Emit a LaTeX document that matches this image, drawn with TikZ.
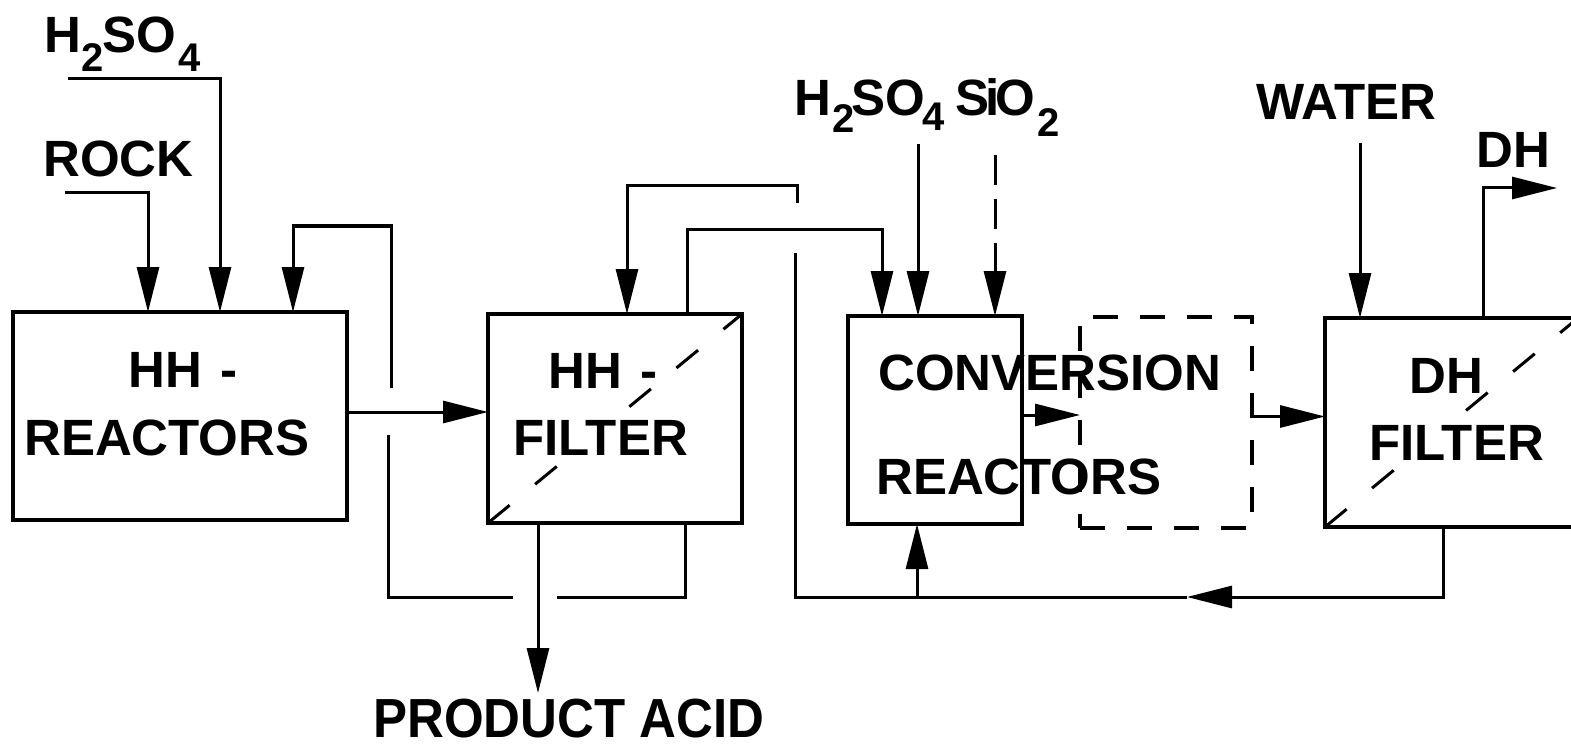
\documentclass[tikz,border=0pt]{standalone}
\usepackage{fontspec}
\setmainfont{Liberation Sans}
\usetikzlibrary{arrows.meta}
\newcommand{\chemsub}[2]{\raisebox{#1}{\fontsize{40}{40}\selectfont #2}}
\begin{document}
\begin{tikzpicture}[x=1pt,y=-1pt,
  unitbox/.style={draw, line width=3.2pt, inner sep=0pt, outer sep=0pt},
  flow/.style={line width=3pt, -{Triangle[length=45pt,width=22pt]}},
  pipe/.style={line width=3pt},
  diag/.style={line width=3pt, dash pattern=on 28pt off 33pt},
  lbl/.style={inner sep=0pt, anchor=base west, font=\fontsize{51}{60}\selectfont\bfseries}]
\useasboundingbox (0,0) rectangle (1571,746);
\clip (0,0) rectangle (1571,746);
\fill[white] (0,0) rectangle (1571,746);

% boxes
\node[unitbox, minimum width=334pt, minimum height=208pt] (rx) at (180,416) {};
\node[unitbox, minimum width=254pt, minimum height=209pt] (hf) at (615,418.5) {};
\node[unitbox, minimum width=174pt, minimum height=208pt] (cv) at (935,420) {};
\node[unitbox, dash pattern=on 25pt off 22pt, minimum width=172pt, minimum height=211pt] (db) at (1166,422.5) {};
\node[unitbox, minimum width=253pt, minimum height=209pt] (df) at (1451.5,422.5) {};

% filter diagonals
\draw[diag] (hf.south west) -- (hf.north east);
\draw[diag] (df.south west) -- (df.north east);

% labels
\node[lbl] (h2a) at (44,53) {H\chemsub{-19pt}{2}\kern-1pt SO\kern3pt\chemsub{-19pt}{4}};
\node[lbl] (rock) at (43,177) {ROCK};
\node[lbl] (rxa) at (128,387) {HH\kern4pt\ -};
\node[lbl] (rxb) at (24,455) {REACTORS};
\node[lbl] (hfa) at (548,388) {HH\kern4pt\ -};
\node[lbl, fill=white] (hfb) at (513,455) {FILTER};
\node[lbl] (cva) at (878,390) {CONVERSION};
\node[lbl] (cvb) at (876,494) {REACTORS};
\node[lbl] (h2b) at (794,116) {H\kern1pt\chemsub{-17pt}{2}\kern-3pt SO\kern-2pt\chemsub{-15pt}{4}};
\node[lbl] (sio) at (955,116) {S\kern-4pt i\kern-4pt O\kern2pt\chemsub{-21pt}{2}};
\node[lbl] (water) at (1256,120) {WATER};
\node[lbl] (dh) at (1476,168) {DH};
\node[lbl] (dfa) at (1409,393) {DH};
\node[lbl, fill=white] (dfb) at (1369,460) {FILTER};
\node[lbl] (pa) at (373,737) {\scalebox{1}[1.08]{PRODUCT ACID}};

% free ends and bends
\coordinate (rockS) at (65,193);
\coordinate (h2aS) at (68,79);
\coordinate (k1) at (557,597);
\coordinate (k2) at (513,597);
\coordinate (k3) at (388,435);
\coordinate (k4) at (391,388);
\coordinate (k5) at (293,226);
\coordinate (m1) at ([yshift=4pt]rx.east);
\coordinate (paE) at (538,693);
\coordinate (k6) at (882,229);
\coordinate (k7) at (1187,597);
\coordinate (k8) at (795,253);
\coordinate (k9) at (797,203);
\coordinate (k10) at (627,186);
\coordinate (k11) at (917,597);
\coordinate (h2bS) at (918,144);
\coordinate (sioS) at (995,155);
\coordinate (m2) at ([yshift=5pt]cv.east);
\coordinate (m3) at ([yshift=6pt]db.east);
\coordinate (wS) at (1360,143);
\coordinate (dhE) at (1557,188);

% feeds to HH reactors
\draw[flow] (rockS) -| ([xshift=135pt]rx.north west);
\draw[flow] (h2aS) -| ([xshift=207pt]rx.north west);

% recycle from HH filter back to HH reactors
\draw[pipe] ([xshift=197pt]hf.south west) |- (k1);
\draw[pipe] (k2) -| (k3);
\draw[flow] (k4) |- (k5) -- (k5 |- rx.north);

% main flow
\draw[flow] (m1) -- (m1 -| hf.west);
\draw[flow] (paE |- hf.south) -- (paE);
\draw[flow] ([xshift=199pt]hf.north west) |- (k6) -- (k6 |- cv.north);

% recycle from DH filter
\draw[flow] ([xshift=118pt]df.south west) |- (k7);
\draw[pipe] (k7) -| (k8);
\draw[flow] (k9) |- (k10) -- (k10 |- hf.north);
\draw[flow] (k11) -- (k11 |- cv.south);

% conversion feeds
\draw[flow] (h2bS) -- (h2bS |- cv.north);
\draw[flow, dash pattern=on 30pt off 14pt] (sioS) -- (sioS |- cv.north);
\draw[flow] (m2) -- (m2 -| db.west);
\draw[flow] (m3) -- (m3 -| df.west);
\draw[flow] (wS) -- (wS |- df.north);
\draw[flow] ([xshift=158pt]df.north west) |- (dhE);
\end{tikzpicture}
\end{document}
